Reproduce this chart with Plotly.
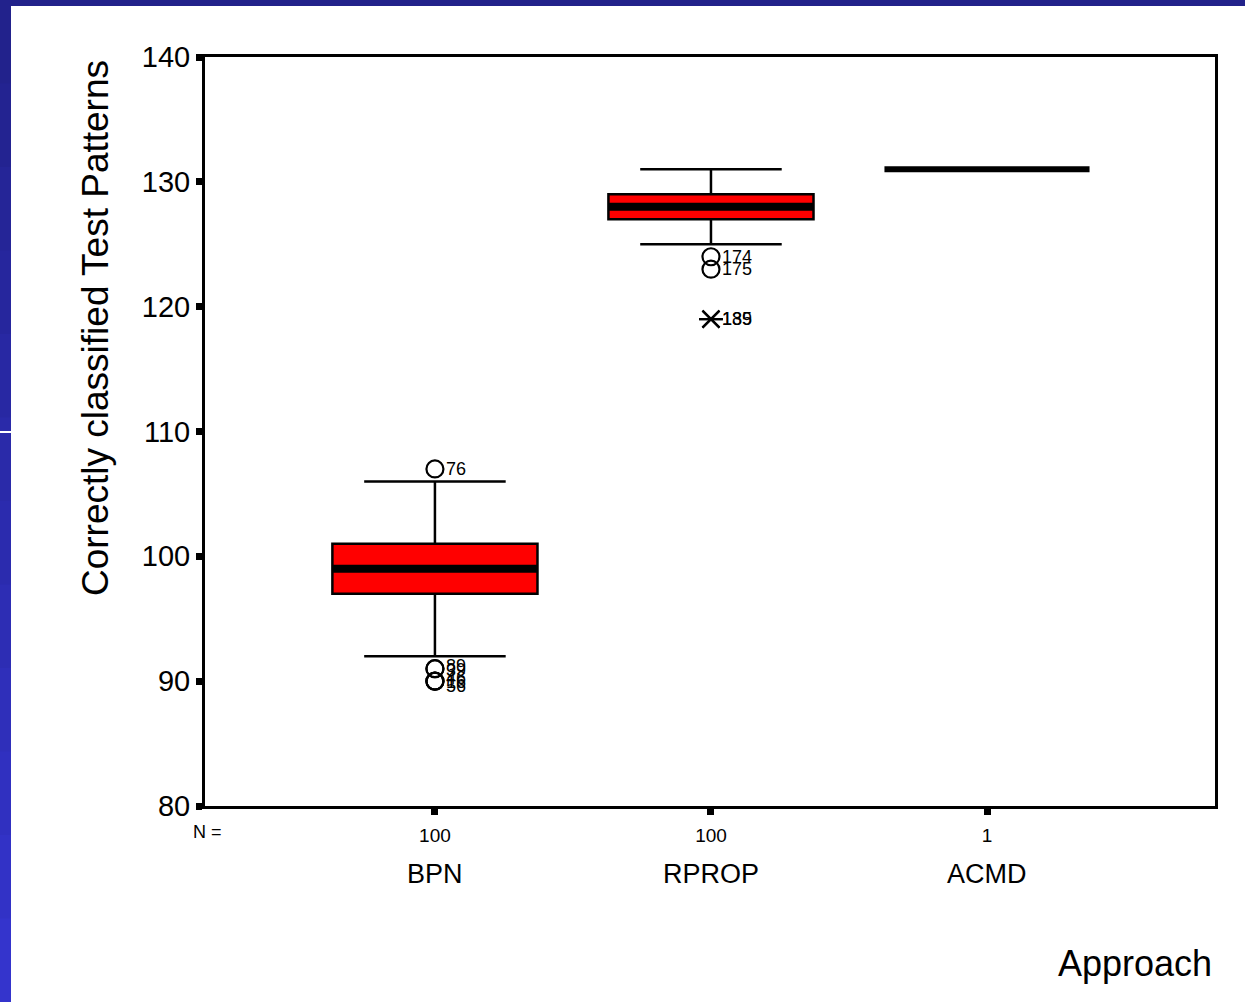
import plotly.graph_objects as go

# ---- data ----
categories = ["BPN", "RPROP", "ACMD"]
n_counts = ["100", "100", "1"]
q1 = [97, 127]
median = [99, 128]
q3 = [101, 129]
lower_whisker = [92, 125]
upper_whisker = [106, 131]
acmd_value = 131

# outliers (circle) : category index, value, label
out_cat = [0, 0, 0, 0, 0, 0, 1, 1]
out_val = [107, 91, 91, 90, 90, 90, 124, 123]
out_lab = ["76", "89", "39", "46", "16", "56", "174", "175"]
# extremes (asterisk)
ext_cat = [1, 1]
ext_val = [119, 119]
ext_lab = ["185", "139"]

y_ticks = [80, 90, 100, 110, 120, 130, 140]

# ---- style ----
FONT = "Liberation Sans, Arial, sans-serif"
BOX_W = 0.743
W, H = 1245, 1002
L, R, T, B = 205, 30, 57, 196
PW, PH = W - L - R, H - T - B

def px(x):
    return (x - L) / PW

def py(y):
    return (H - B - y) / PH

fig = go.Figure()

for i in range(2):
    fig.add_trace(go.Box(
        x=[i], q1=[q1[i]], median=[median[i]], q3=[q3[i]],
        lowerfence=[lower_whisker[i]], upperfence=[upper_whisker[i]],
        width=BOX_W, whiskerwidth=0.69, boxpoints=False,
        fillcolor="#ff0000", line=dict(color="black", width=2.5),
        hoverinfo="skip", showlegend=False))
    fig.add_trace(go.Scatter(
        x=[i - BOX_W / 2, i + BOX_W / 2], y=[median[i], median[i]],
        mode="lines", line=dict(color="black", width=8),
        hoverinfo="skip", showlegend=False))

# ACMD single value
fig.add_trace(go.Scatter(
    x=[2 - BOX_W / 2, 2 + BOX_W / 2], y=[acmd_value, acmd_value],
    mode="lines", line=dict(color="black", width=6),
    hoverinfo="skip", showlegend=False))

# outliers
fig.add_trace(go.Scatter(
    x=out_cat, y=out_val, mode="markers",
    marker=dict(symbol="circle-open", size=17, color="black", line=dict(width=2.2)),
    hoverinfo="skip", showlegend=False))
label_yshift = [0, 3, -1, 3, -1, -5, 0, 0]
for c, v, lab, ys in zip(out_cat, out_val, out_lab, label_yshift):
    fig.add_annotation(x=c, y=v, text=lab, showarrow=False, xanchor="left",
                       yanchor="middle", xshift=9, yshift=ys,
                       font=dict(family=FONT, size=18, color="black"))

# extremes
for sym in ["x-thin-open", "line-ew-open"]:
    fig.add_trace(go.Scatter(
        x=ext_cat, y=ext_val, mode="markers",
        marker=dict(symbol=sym, size=17, color="black", line=dict(width=2.2, color="black")),
        hoverinfo="skip", showlegend=False))
for c, v, lab in zip(ext_cat, ext_val, ext_lab):
    fig.add_annotation(x=c, y=v, text=lab, showarrow=False, xanchor="left",
                       yanchor="middle", xshift=9,
                       font=dict(family=FONT, size=18, color="black"))

# category names
for i, cname in enumerate(categories):
    fig.add_annotation(x=i, y=py(874), xref="x", yref="paper", text=cname,
                       xanchor="center", yanchor="middle",
                       showarrow=False, font=dict(family=FONT, size=27, color="black"))

fig.add_annotation(x=px(207), y=py(832), xref="paper", yref="paper", text="N =",
                   xanchor="center", yanchor="middle",
                   showarrow=False, font=dict(family=FONT, size=18, color="black"))
fig.add_annotation(x=px(1135), y=py(963), xref="paper", yref="paper", text="Approach",
                   xanchor="center", yanchor="middle",
                   showarrow=False, font=dict(family=FONT, size=36, color="black"))
fig.add_annotation(x=px(95), y=py(328), xref="paper", yref="paper",
                   text="Correctly classified Test Patterns", textangle=-90,
                   xanchor="center", yanchor="middle",
                   showarrow=False, font=dict(family=FONT, size=37, color="black"))

# blue frame
shapes = [dict(type="rect", xref="paper", yref="paper", x0=px(0), x1=px(W),
               y0=py(0), y1=py(6), fillcolor="#22228a", line=dict(width=0), layer="below")]
nseg = 12
c0 = (0x22, 0x22, 0x8c)
c1 = (0x34, 0x34, 0xcc)
for k in range(nseg):
    t = k / (nseg - 1)
    col = "rgb(%d,%d,%d)" % tuple(int(a + (b - a) * t) for a, b in zip(c0, c1))
    shapes.append(dict(type="rect", xref="paper", yref="paper", x0=px(0), x1=px(11),
                       y0=py(H * k / nseg), y1=py(H * (k + 1) / nseg + 3),
                       fillcolor=col, line=dict(width=0), layer="below"))
shapes.append(dict(type="rect", xref="paper", yref="paper", x0=px(0), x1=px(11),
                   y0=py(431), y1=py(433), fillcolor="white", line=dict(width=0), layer="below"))

fig.update_layout(
    width=W, height=H,
    margin=dict(l=L, r=R, t=T, b=B),
    paper_bgcolor="white", plot_bgcolor="white",
    font=dict(family=FONT, color="black"),
    shapes=shapes,
    xaxis=dict(range=[-0.833, 2.826], tickvals=[0, 1, 2], ticktext=n_counts,
               showgrid=False, zeroline=False, showline=True, linecolor="black",
               linewidth=3, mirror=True, ticks="outside", ticklen=6, tickwidth=7,
               tickcolor="black", tickfont=dict(family=FONT, size=19),
               ticklabelstandoff=4),
    yaxis=dict(range=[80, 140], tickvals=y_ticks, showgrid=False, zeroline=False,
               showline=True, linecolor="black", linewidth=3, mirror=True,
               ticks="outside", ticklen=6, tickwidth=7, tickcolor="black",
               tickfont=dict(family=FONT, size=29)),
)

fig.write_html("out.html", config={"displayModeBar": False},
               post_script="document.body.style.margin='0';document.body.style.overflow='hidden';")
